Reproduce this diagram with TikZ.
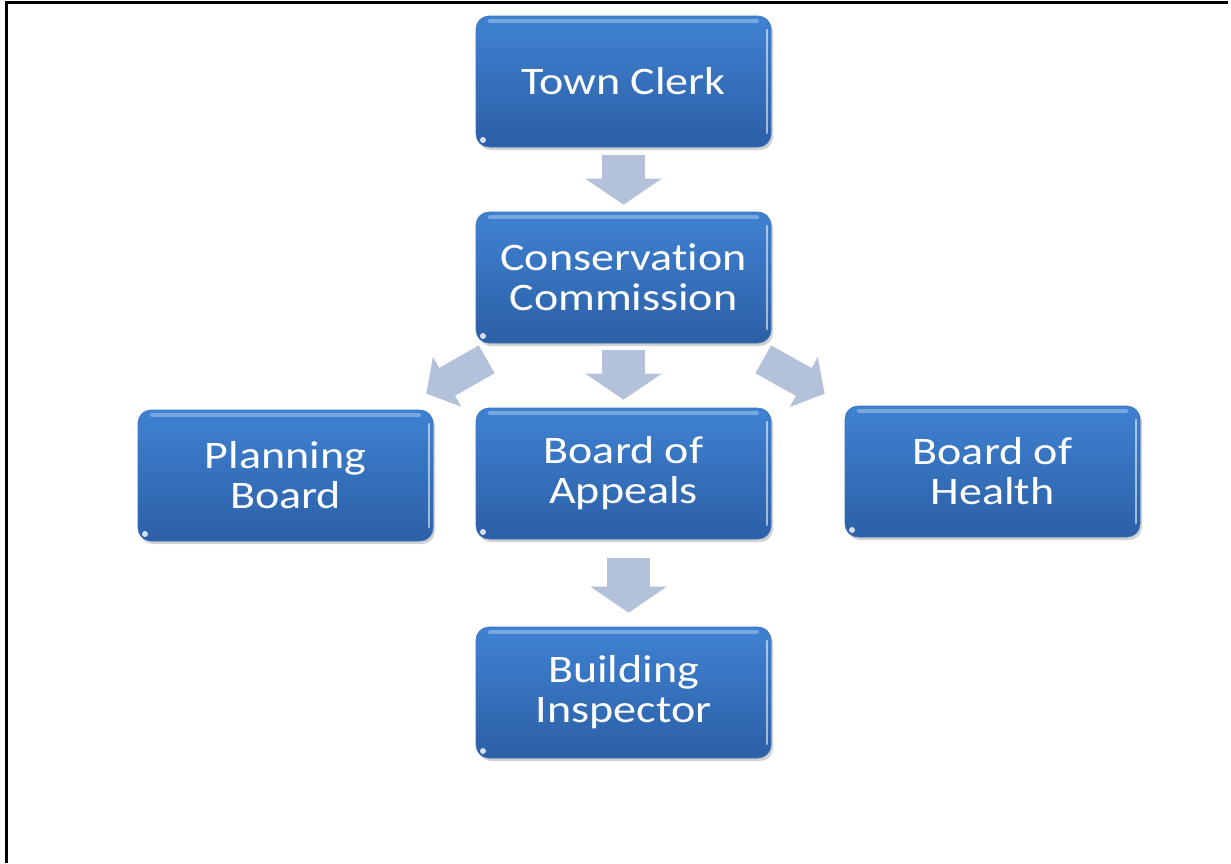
\documentclass[tikz,border=0pt]{standalone}
\usepackage{fontspec}
\newfontfamily\boxfont{Carlito}[FakeStretch=1.18, Ligatures=NoCommon]
\usepackage{xcolor}
\usetikzlibrary{calc,shadows,arrows.meta}

\definecolor{boxtop}{HTML}{3F82D2}
\definecolor{boxbot}{HTML}{2C5FA6}
\definecolor{boxedge}{HTML}{3A70B8}
\definecolor{arrowfill}{HTML}{B3C1DB}

\tikzset{
	orgbox/.style={rectangle, rounded corners=13pt, minimum width=295pt, minimum height=131pt,
		inner sep=0pt, align=center, text=white, top color=boxtop, bottom color=boxbot,
		draw=boxedge, line width=.6pt,
		font={\boxfont\fontsize{39}{40}\selectfont},
		drop shadow={shadow xshift=2pt, shadow yshift=-3pt, opacity=.3, fill=black!60},
		path picture={
			% light rim along the top and the right side
			\draw[white, opacity=.3, line width=4pt, line cap=round]
				([xshift=14pt,yshift=-5pt]path picture bounding box.north west) --
				([xshift=-14pt,yshift=-5pt]path picture bounding box.north east);
			\draw[white, opacity=.55, line width=2.5pt, line cap=round]
				([xshift=-4pt,yshift=-14pt]path picture bounding box.north east) --
				([xshift=-4pt,yshift=14pt]path picture bounding box.south east);
			\fill[white, opacity=.8] ([xshift=7pt,yshift=7pt]path picture bounding box.south west) circle (3pt);
		}},
	flowarrow/.style={draw=arrowfill, line width=43pt, -{Triangle[width=75pt,length=26pt]}},
	sidearrow/.style={draw=arrowfill, line width=32pt, -{Triangle[width=56pt,length=24pt]}}
}

\begin{document}
\begin{tikzpicture}[x=1pt,y=-1pt]
	\useasboundingbox (0,0) rectangle (1231,863);
	
	% frame edges
	\draw[line width=3pt] (6,863) -- (6,2) -- (1228,2);
	
	\node[orgbox] (clerk)   at (623.5,81.5)  {Town Clerk};
	\node[orgbox] (cons)    at (623.5,277.5) {Conservation\\Commission};
	\node[orgbox] (plan)    at (285.5,475.5) {Planning\\Board};
	\node[orgbox] (appeals) at (623.5,473.5) {Board of\\Appeals};
	\node[orgbox] (health)  at (992.5,471.5) {Board of\\Health};
	\node[orgbox] (inspect) at (623.5,692.5) {Building\\Inspector};
	
	\draw[flowarrow, shorten <=8pt, shorten >=7pt] (clerk.south) -- (cons.north);
	\draw[flowarrow, shorten <=7pt, shorten >=8pt] (cons.south) -- (appeals.north);
	\draw[flowarrow, shorten <=19pt, shorten >=14pt] ([xshift=5pt]appeals.south) -- ([xshift=5pt]inspect.north);
	
	\draw[sidearrow] ($(cons.south west)+(11,16)$) -- ($(plan.north east)+(-7,-16)$);
	\draw[sidearrow] ($(cons.south east)+(-8,16)$) -- ($(health.north west)+(-20,-12)$);
\end{tikzpicture}
\end{document}
